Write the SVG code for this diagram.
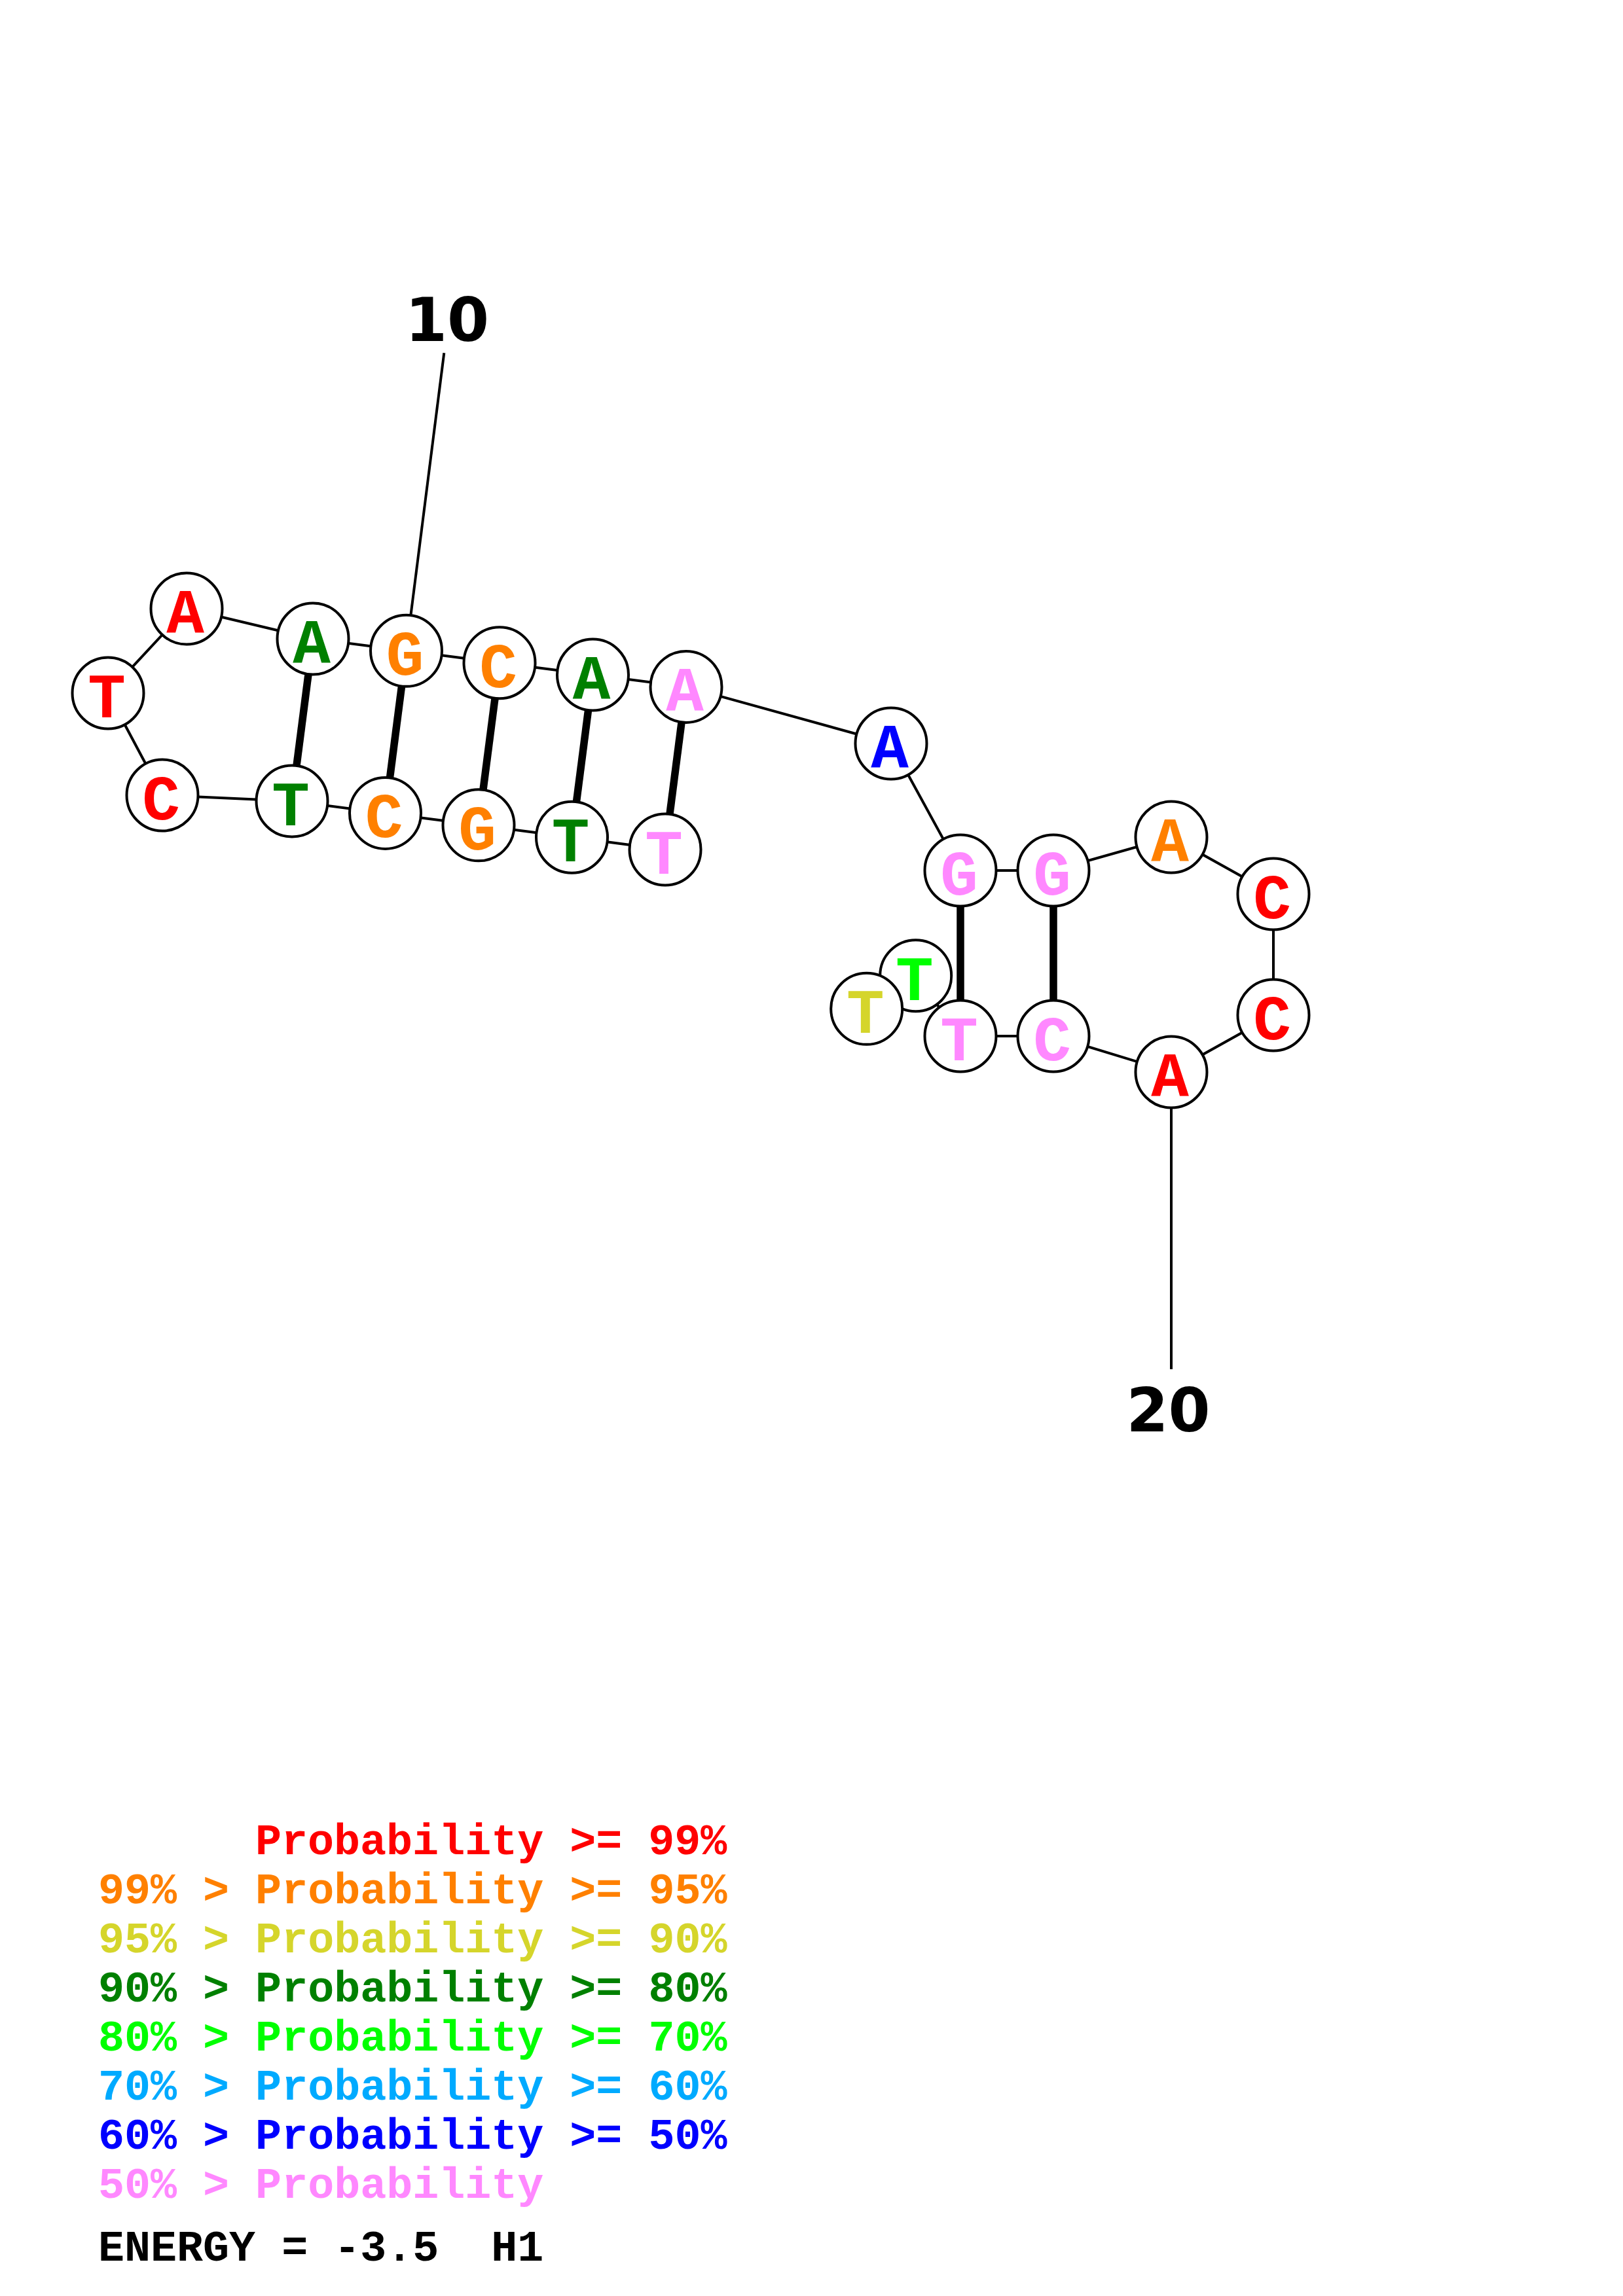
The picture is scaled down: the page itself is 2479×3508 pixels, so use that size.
<svg xmlns="http://www.w3.org/2000/svg" width="2479" height="3508" viewBox="0 0 2479 3508">
<style>
.bb{stroke:#000;stroke-width:4;fill:none}
.bp{stroke:#000;stroke-width:11.5;fill:none}
.nc{fill:#fff;stroke:#000;stroke-width:4}
.nt{font-family:"Liberation Mono","DejaVu Sans Mono",monospace;font-weight:bold;font-size:96px;text-anchor:middle}
.lg{font-family:"Liberation Mono","DejaVu Sans Mono",monospace;font-weight:bold;font-size:66.7px}
.num{font-family:"DejaVu Sans",sans-serif;font-weight:bold;font-size:92px;text-anchor:middle;fill:#000}
.r{fill:#FF0000}.o{fill:#FF8000}.y{fill:#D5D52B}.dg{fill:#008000}.g{fill:#00FF00}.sb{fill:#00AAFF}.b{fill:#0000FF}.p{fill:#FF88FF}.k{fill:#000}
</style>
<rect x="0" y="0" width="2479" height="3508" fill="#fff"/>
<g id="connectors">
<line class="bb" x1="678.3" y1="539.3" x2="620.5" y2="994.3"/>
<line class="bb" x1="1789" y1="1638" x2="1789" y2="2092"/>
<polyline class="bb" points="1016,1298 873.5,1279.2 731,1260.8 588.5,1242.4 446,1224 248,1215 165,1059 285,930 478,976 620.5,994.3 763,1012.7 905.5,1031 1048,1049.4 1361,1136 1467,1330 1609,1330 1789,1279 1945,1366 1945,1551 1789,1638 1609,1583 1467,1583 1398.7,1490.7 1323.7,1541.3"/>
<line class="bp" x1="1016" y1="1298" x2="1048" y2="1049.4"/>
<line class="bp" x1="873.5" y1="1279.2" x2="905.5" y2="1031"/>
<line class="bp" x1="731" y1="1260.8" x2="763" y2="1012.7"/>
<line class="bp" x1="588.5" y1="1242.4" x2="620.5" y2="994.3"/>
<line class="bp" x1="446" y1="1224" x2="478" y2="976"/>
<line class="bp" x1="1467" y1="1330" x2="1467" y2="1583"/>
<line class="bp" x1="1609" y1="1330" x2="1609" y2="1583"/>
</g>
<g id="n1"><circle class="nc" cx="1016" cy="1298" r="54.5"/><text class="nt p" x="1014" y="1335">T</text></g>
<g id="n2"><circle class="nc" cx="873.5" cy="1279.2" r="54.5"/><text class="nt dg" x="871.5" y="1316.2">T</text></g>
<g id="n3"><circle class="nc" cx="731" cy="1260.8" r="54.5"/><text class="nt o" x="729" y="1297.8">G</text></g>
<g id="n4"><circle class="nc" cx="588.5" cy="1242.4" r="54.5"/><text class="nt o" x="586.5" y="1279.4">C</text></g>
<g id="n5"><circle class="nc" cx="446" cy="1224" r="54.5"/><text class="nt dg" x="444" y="1261">T</text></g>
<g id="n6"><circle class="nc" cx="248" cy="1215" r="54.5"/><text class="nt r" x="246" y="1252">C</text></g>
<g id="n7"><circle class="nc" cx="165" cy="1059" r="54.5"/><text class="nt r" x="163" y="1096">T</text></g>
<g id="n8"><circle class="nc" cx="285" cy="930" r="54.5"/><text class="nt r" x="283" y="967">A</text></g>
<g id="n9"><circle class="nc" cx="478" cy="976" r="54.5"/><text class="nt dg" x="476" y="1013">A</text></g>
<g id="n10"><circle class="nc" cx="620.5" cy="994.3" r="54.5"/><text class="nt o" x="618.5" y="1031.3">G</text></g>
<g id="n11"><circle class="nc" cx="763" cy="1012.7" r="54.5"/><text class="nt o" x="761" y="1049.7">C</text></g>
<g id="n12"><circle class="nc" cx="905.5" cy="1031" r="54.5"/><text class="nt dg" x="903.5" y="1068">A</text></g>
<g id="n13"><circle class="nc" cx="1048" cy="1049.4" r="54.5"/><text class="nt p" x="1046" y="1086.4">A</text></g>
<g id="n14"><circle class="nc" cx="1361" cy="1136" r="54.5"/><text class="nt b" x="1359" y="1173">A</text></g>
<g id="n15"><circle class="nc" cx="1467" cy="1330" r="54.5"/><text class="nt p" x="1465" y="1367">G</text></g>
<g id="n16"><circle class="nc" cx="1609" cy="1330" r="54.5"/><text class="nt p" x="1607" y="1367">G</text></g>
<g id="n17"><circle class="nc" cx="1789" cy="1279" r="54.5"/><text class="nt o" x="1787" y="1316">A</text></g>
<g id="n18"><circle class="nc" cx="1945" cy="1366" r="54.5"/><text class="nt r" x="1943" y="1403">C</text></g>
<g id="n19"><circle class="nc" cx="1945" cy="1551" r="54.5"/><text class="nt r" x="1943" y="1588">C</text></g>
<g id="n20"><circle class="nc" cx="1789" cy="1638" r="54.5"/><text class="nt r" x="1787" y="1675">A</text></g>
<g id="n21"><circle class="nc" cx="1609" cy="1583" r="54.5"/><text class="nt p" x="1607" y="1620">C</text></g>
<g id="n22"><circle class="nc" cx="1467" cy="1583" r="54.5"/><text class="nt p" x="1465" y="1620">T</text></g>
<g id="n23"><circle class="nc" cx="1398.7" cy="1490.7" r="54.5"/><text class="nt g" x="1396.7" y="1527.7">T</text></g>
<g id="n24"><circle class="nc" cx="1323.7" cy="1541.3" r="54.5"/><text class="nt y" x="1321.7" y="1578.3">T</text></g>
<g id="labels">
<text class="num" x="683" y="521">10</text>
<text class="num" x="1784.5" y="2187">20</text>
</g>
<g id="legend">
<text class="lg r" x="390" y="2833">Probability &gt;= 99%</text>
<text class="lg o" x="150" y="2908">99% &gt; Probability &gt;= 95%</text>
<text class="lg y" x="150" y="2983">95% &gt; Probability &gt;= 90%</text>
<text class="lg dg" x="150" y="3058">90% &gt; Probability &gt;= 80%</text>
<text class="lg g" x="150" y="3133">80% &gt; Probability &gt;= 70%</text>
<text class="lg sb" x="150" y="3208">70% &gt; Probability &gt;= 60%</text>
<text class="lg b" x="150" y="3283">60% &gt; Probability &gt;= 50%</text>
<text class="lg p" x="150" y="3358">50% &gt; Probability</text>
<text class="lg k" x="150" y="3454" xml:space="preserve">ENERGY = -3.5  H1</text>
</g>
</svg>
